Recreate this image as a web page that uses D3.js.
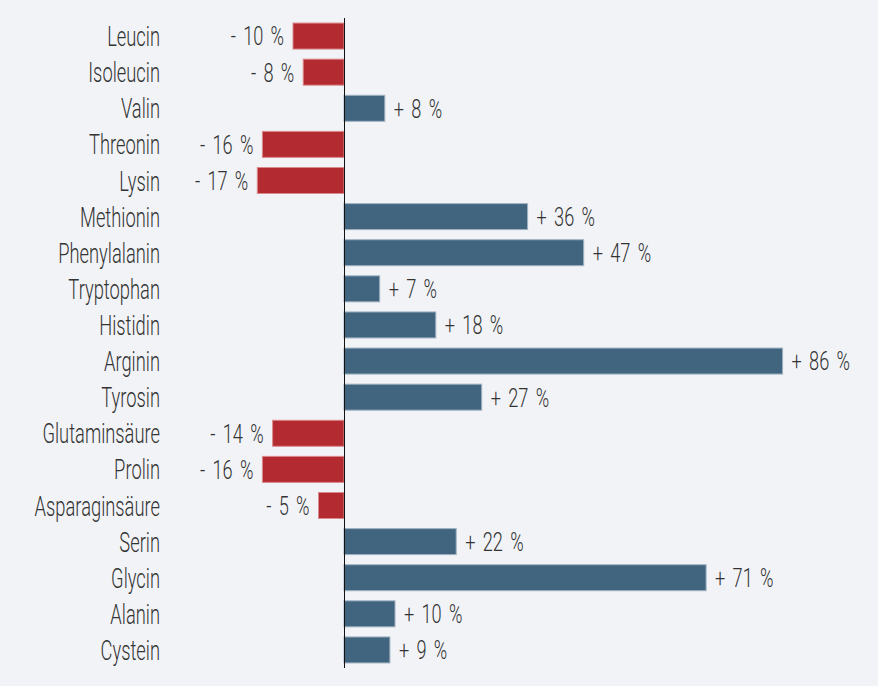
<!DOCTYPE html>
<html>
<head>
<meta charset="utf-8">
<script src="https://cdn.jsdelivr.net/npm/d3@7"></script>
<style>
  html, body { margin: 0; padding: 0; background: #f2f3f7; }
  svg { display: block; }
  text { font-family: Roboto, "Liberation Sans Narrow", sans-serif; font-weight: 300; fill: #333; }
</style>
</head>
<body>
<svg id="chart" width="878" height="686"></svg>
<script>
const categories = ["Leucin","Isoleucin","Valin","Threonin","Lysin","Methionin","Phenylalanin","Tryptophan","Histidin","Arginin","Tyrosin","Glutaminsäure","Prolin","Asparaginsäure","Serin","Glycin","Alanin","Cystein"];
const values = [-10,-8,8,-16,-17,36,47,7,18,86,27,-14,-16,-5,22,71,10,9];
const valueLabels = ["- 10 %","- 8 %","+ 8 %","- 16 %","- 17 %","+ 36 %","+ 47 %","+ 7 %","+ 18 %","+ 86 %","+ 27 %","- 14 %","- 16 %","- 5 %","+ 22 %","+ 71 %","+ 10 %","+ 9 %"];

const svg = d3.select("#chart");
const x = d3.scaleLinear().domain([-30, 100]).range([344 - 153, 344 + 510]);
const y = d3.scaleBand().domain(categories).range([18, 668]).paddingInner(0.28).paddingOuter(0.14);

const data = categories.map((c, i) => ({c, v: values[i], label: valueLabels[i]}));

svg.append("g").selectAll("rect").data(data).join("rect")
  .attr("x", d => x(Math.min(0, d.v)))
  .attr("y", d => y(d.c))
  .attr("width", d => Math.abs(x(d.v) - x(0)))
  .attr("height", y.bandwidth())
  .attr("fill", d => d.v < 0 ? "#b32b30" : "#41657f")
  .attr("stroke", d => d.v < 0 ? "#d98a8c" : "#9fb2c2")
  .attr("stroke-width", 1);

svg.append("line")
  .attr("x1", x(0) + 0.5).attr("x2", x(0) + 0.5)
  .attr("y1", 18).attr("y2", 668)
  .attr("stroke", "#111").attr("stroke-width", 1);

svg.append("g").selectAll("text").data(data).join("text")
  .attr("transform", d => `translate(160,${y(d.c) + y.bandwidth() / 2}) scale(0.655,1)`)
  .attr("text-anchor", "end")
  .attr("dy", "0.36em")
  .style("font-size", "28px")
  .text(d => d.c);

svg.append("g").selectAll("text").data(data).join("text")
  .attr("transform", d => `translate(${d.v < 0 ? x(d.v) - 9 : x(d.v) + 9},${y(d.c) + y.bandwidth() / 2}) scale(0.7,1)`)
  .attr("text-anchor", d => d.v < 0 ? "end" : "start")
  .attr("dy", "0.36em")
  .style("font-size", "26px")
  .style("word-spacing", "4px")
  .text(d => d.label);
</script>
</body>
</html>
